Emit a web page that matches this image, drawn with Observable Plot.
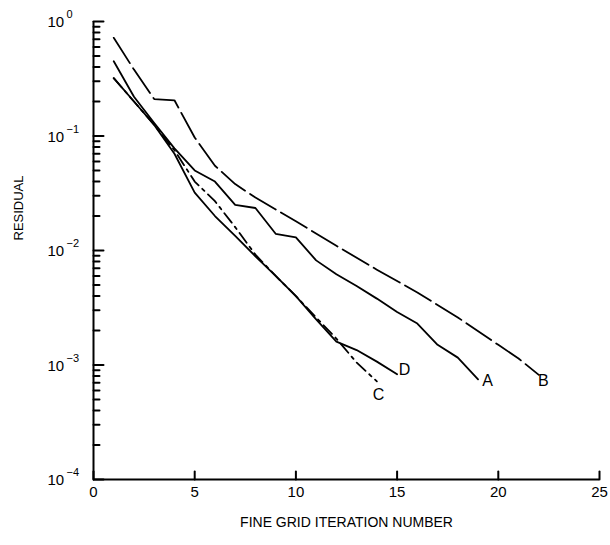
<!DOCTYPE html>
<html>
<head>
<meta charset="utf-8">
<script src="https://cdn.jsdelivr.net/npm/d3@7"></script>
<script src="https://cdn.jsdelivr.net/npm/@observablehq/plot@0.6"></script>
<style>
  html, body { margin: 0; padding: 0; background: #fff; }
  #chart { width: 610px; height: 545px; }
</style>
</head>
<body>
<div id="chart"></div>
<script>
// ---- data ----
const iterA = [1,2,3,4,5,6,7,8,9,10,11,12,13,14,15,16,17,18,19];
const resA  = [0.45,0.22,0.13,0.078,0.05,0.04,0.025,0.0235,0.014,0.013,0.0082,0.0062,0.0049,0.0038,0.0029,0.0023,0.0015,0.00116,0.00075];

const iterB = [1,2,3,4,5,6,7,8,10,12,14,16,18,20,21,22];
const resB  = [0.72,0.38,0.21,0.205,0.097,0.055,0.038,0.029,0.018,0.011,0.0068,0.0043,0.0026,0.0015,0.00114,0.00082];

const iterC = [1,2,3,4,5,6,7,8,9,10,11,12,13,14];
const resC  = [0.32,0.2,0.125,0.075,0.04,0.027,0.016,0.0092,0.006,0.0040,0.0026,0.0017,0.00105,0.00072];

const iterD = [1,2,3,4,5,6,7,8,9,10,11,12,13,14,15];
const resD  = [0.32,0.2,0.125,0.07,0.032,0.02,0.0134,0.0089,0.006,0.004,0.0025,0.0016,0.00135,0.00107,0.00083];

const labelNames = ["A","B","C","D"];
const labelIter  = [19.47, 22.23, 14.08, 15.37];
const labelRes   = [7.3e-4, 7.3e-4, 5.5e-4, 9.1e-4];

const xTicks = [0,5,10,15,20,25];
const yDecades = [1e-4,1e-3,1e-2,1e-1,1];
const yExponents = ["\u22124","\u22123","\u22122","\u22121","0"];
const yMinor = [];
for (const e of [-4,-3,-2,-1]) for (let k = 2; k <= 9; k++) yMinor.push(k * Math.pow(10, e));

const xLabel = "FINE GRID ITERATION NUMBER";
const yLabel = "RESIDUAL";

// ---- tables ----
const tA = iterA.map((x,i) => ({x, y: resA[i]}));
const tB = iterB.map((x,i) => ({x, y: resB[i]}));
const tC = iterC.map((x,i) => ({x, y: resC[i]}));
const tD = iterD.map((x,i) => ({x, y: resD[i]}));
const tL = labelNames.map((t,i) => ({t, x: labelIter[i], y: labelRes[i]}));

const font = "'Liberation Sans', Arial, Helvetica, sans-serif";

// a plain straight tick shape for vectors (points "up" before rotation)
const tickShape = {draw(context, l) { context.moveTo(0, 0); context.lineTo(0, -l); }};

const chart = Plot.plot({
  width: 610,
  height: 545,
  marginLeft: 93,
  marginRight: 11,
  marginTop: 21,
  marginBottom: 66,
  style: {fontFamily: font, background: "#fff", color: "#000"},
  x: {domain: [0, 25], axis: null},
  y: {type: "log", domain: [1e-4, 1], axis: null},
  marks: [
    // axis lines
    Plot.ruleX([0], {stroke: "#000", strokeWidth: 2}),
    Plot.ruleY([1e-4], {stroke: "#000", strokeWidth: 2}),
    // inward ticks
    Plot.vector(xTicks, {x: d => d, frameAnchor: "bottom", length: 8, rotate: 0, anchor: "start", shape: tickShape, stroke: "#000", strokeWidth: 2}),
    Plot.vector(yDecades, {y: d => d, frameAnchor: "left", length: 10, rotate: 90, anchor: "start", shape: tickShape, stroke: "#000", strokeWidth: 2}),
    Plot.vector(yMinor, {y: d => d, frameAnchor: "left", length: 6, rotate: 90, anchor: "start", shape: tickShape, stroke: "#000", strokeWidth: 2}),
    // tick labels
    Plot.text(xTicks, {x: d => d, frameAnchor: "bottom", dy: 17, text: d => String(d), fontSize: 15, fill: "#000"}),
    Plot.text(yDecades, {y: d => d, frameAnchor: "left", dx: -46, dy: 1, textAnchor: "start", text: () => "10", fontSize: 15, fill: "#000"}),
    Plot.text(yDecades, {y: d => d, frameAnchor: "left", dx: -27, dy: -7, textAnchor: "start", text: (d,i) => yExponents[i], fontSize: 11, fill: "#000"}),
    // axis titles
    Plot.text([xLabel], {frameAnchor: "bottom", dy: 47, text: d => d, fontSize: 14, fill: "#000"}),
    Plot.text([yLabel], {frameAnchor: "left", dx: -75, dy: -10, rotate: -90, text: d => d, fontSize: 13, fill: "#000"}),
    // series
    Plot.line(tA, {x: "x", y: "y", stroke: "#000", strokeWidth: 1.8}),
    Plot.line(tB, {x: "x", y: "y", stroke: "#000", strokeWidth: 1.8, strokeDasharray: "30,6"}),
    Plot.line(tD, {x: "x", y: "y", stroke: "#000", strokeWidth: 1.8}),
    Plot.line(tC, {x: "x", y: "y", stroke: "#000", strokeWidth: 1.8, strokeDasharray: "12,5,3,5"}),
    // series labels
    Plot.text(tL, {x: "x", y: "y", text: "t", fontSize: 16, fill: "#000"})
  ]
});
document.getElementById("chart").appendChild(chart);
</script>
</body>
</html>
